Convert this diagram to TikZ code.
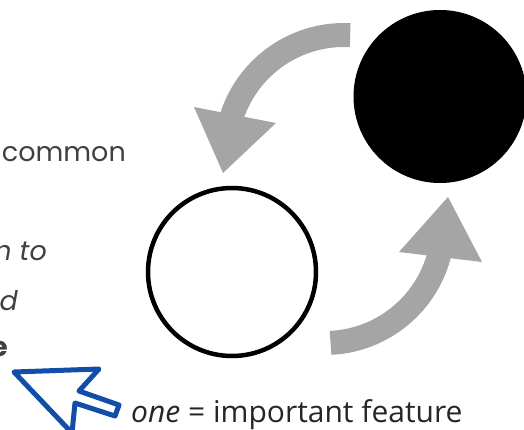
\documentclass[tikz,border=0pt]{standalone}
\usepackage{fontspec}
\newfontfamily\popfont{Poppins}
\newfontfamily\opensans{Open Sans}
\usetikzlibrary{calc}
\definecolor{arrowgray}{RGB}{165,165,165}
\definecolor{cursorblue}{RGB}{16,78,170}
\definecolor{textgray}{RGB}{64,64,64}
\definecolor{textdark}{RGB}{38,38,38}

\begin{document}
\begin{tikzpicture}[x=1pt,y=1pt,
  bandarrow/.style={draw=arrowgray, line width=24pt},
  headfill/.style={fill=arrowgray},
  sidetext/.style={font=\popfont\fontsize{27}{32}\selectfont, text=textgray, inner sep=0pt, anchor=base east},
  notetext/.style={font=\opensans\fontsize{30}{36}\selectfont, text=textdark, inner sep=0pt, anchor=base west},
  pointer/.style={draw=cursorblue, line width=5pt, line join=round},
]
\useasboundingbox (0,0) rectangle (524,429);
\clip (0,0) rectangle (524,429);

% the two states
\node[circle, fill=black, minimum size=173pt, inner sep=0pt] (solid) at (440,332.5) {};
\node[circle, draw=black, line width=4.5pt, minimum size=168pt, inner sep=0pt] (hollow) at (232,157) {};

% curved block arrows between them
\coordinate (upc) at (344,276);
\coordinate (lowc) at (325,204);
\draw[bandarrow] ($(upc)+(87:118)$) arc[start angle=87, end angle=165, radius=118];
\fill[headfill] (194,322) -- (276,306) -- (223,256) -- cycle;
\draw[bandarrow] ($(lowc)+(-87.3:118)$) arc[start angle=-87.3, end angle=-5, radius=118];
\fill[headfill] (399,177) -- (482,167) -- (448,232) -- cycle;

% text running in from the left edge
\node[sidetext] (w1) at (126,267) {common};
\node[sidetext, font=\popfont\itshape\fontsize{27}{32}\selectfont] (w2) at (47,169) {n to};
\node[sidetext, font=\popfont\itshape\fontsize{27}{32}\selectfont] (w3) at (18,119) {d};
\node[sidetext, font=\popfont\bfseries\fontsize{27}{32}\selectfont] (w4) at (8,73) {e};

% pointer and legend
\draw[pointer] (14,57) -- (99,60) -- (79,38) -- (119,24) -- (115,13) -- (75,26) -- (72,-4) -- cycle;
\node[notetext] (note) at (131,6.3) {\textit{one} = important feature};
\end{tikzpicture}
\end{document}
